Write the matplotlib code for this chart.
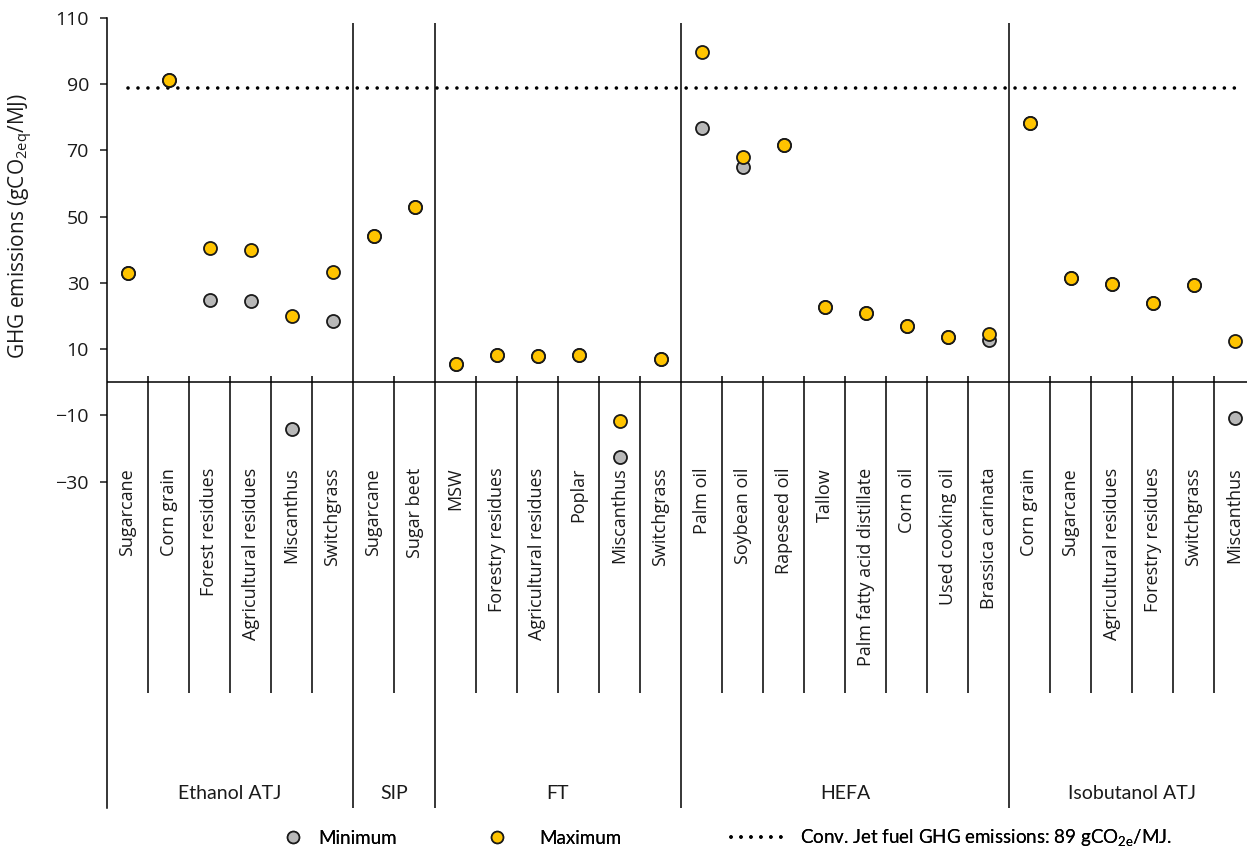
import numpy as np
import matplotlib
matplotlib.use("Agg")
import matplotlib.pyplot as plt
from matplotlib.lines import Line2D

plt.rcParams['font.family'] = ['Open Sans', 'DejaVu Sans']
plt.rcParams['mathtext.default'] = 'regular'

groups = ["Ethanol ATJ", "SIP", "FT", "HEFA", "Isobutanol ATJ"]
group_sizes = [6, 2, 6, 8, 6]
feedstocks = [
    "Sugarcane", "Corn grain", "Forest residues", "Agricultural residues", "Miscanthus", "Switchgrass",
    "Sugarcane", "Sugar beet",
    "MSW", "Forestry residues", "Agricultural residues", "Poplar", "Miscanthus", "Switchgrass",
    "Palm oil", "Soybean oil", "Rapeseed oil", "Tallow", "Palm fatty acid distillate", "Corn oil",
    "Used cooking oil", "Brassica carinata",
    "Corn grain", "Sugarcane", "Agricultural residues", "Forestry residues", "Switchgrass", "Miscanthus",
]
ghg_min = [
    33.0, 91.2, 25.0, 24.6, -14.1, 18.6,
    44.2, 53.0,
    5.5, 8.2, 7.8, 8.2, -22.4, 6.9,
    76.8, 65.1, 71.7, 22.7, 20.9, 17.1, 13.8, 12.8,
    78.2, 31.5, 29.7, 23.9, 29.3, -10.8,
]
ghg_max = [
    33.0, 91.2, 40.6, 40.0, 19.9, 33.4,
    44.2, 53.0,
    5.5, 8.2, 7.8, 8.2, -11.7, 6.9,
    99.7, 68.0, 71.7, 22.7, 20.9, 17.1, 13.8, 14.6,
    78.2, 31.5, 29.7, 23.9, 29.3, 12.4,
]
jet_fuel_ref = 89

W, H = 1247, 851
fig = plt.figure(figsize=(W / 100, H / 100), dpi=100)
# value axis: 110 sits at y=18 px, label block ends at y=808 px
px_per_unit = 3.312
ymax = 110
ymin = ymax - (808 - 18) / px_per_unit
ax = fig.add_axes([107 / W, (H - 808) / H, (1255 - 107) / W, (808 - 18) / H])
ax.set_xlim(0, len(feedstocks))
ax.set_ylim(ymin, ymax)

x = np.arange(len(feedstocks)) + 0.5
ax.scatter(x, ghg_min, s=88, c="#B8B8B8", edgecolors="#1a1a1a", linewidths=1.3, zorder=3)
ax.scatter(x, ghg_max, s=88, c="#FFC400", edgecolors="#1a1a1a", linewidths=1.3, zorder=4)
ax.plot(x, [jet_fuel_ref] * len(x), color="black", lw=2.6, linestyle=(0, (0.01, 2.75)),
        dash_capstyle="round", zorder=2)

# category axis crossing at zero, with two levels of dividers
ax.axhline(0, color="black", lw=1.1, zorder=1)
edges = np.cumsum([0] + group_sizes)
inner = [i for i in range(1, len(feedstocks)) if i not in edges]
ax.vlines(inner, -93.8, 1.9, color="black", lw=1.1)
ax.vlines(edges[1:], ymin, 108.6, color="black", lw=1.1)

for xi, name in zip(x, feedstocks):
    ax.text(xi, -25.8, name, rotation=90, ha="center", va="top", fontsize=13, color="#1a1a1a")
for g, a, b in zip(groups, edges[:-1], edges[1:]):
    ax.text((a + b) / 2, -124.0, g, ha="center", va="center", fontsize=14, color="#1a1a1a",
            family=["Lato", "DejaVu Sans"])

for side in ["top", "right", "bottom"]:
    ax.spines[side].set_visible(False)
ax.spines["left"].set_linewidth(1.1)
ax.set_xticks([])
ax.set_yticks(np.arange(-30, 111, 20))
ax.tick_params(axis="y", length=5, width=1.1, labelsize=14, pad=8, colors="#1a1a1a")

fig.text(21 / W, 1 - 226 / H, "GHG emissions (gCO$_{2eq}$/MJ)", rotation=90, ha="center", va="center",
         fontsize=15, color="#1a1a1a")

# legend entries laid out one by one along the bottom
fs = 13.5
em = fs * 100 / 72
entries = [
    (Line2D([], [], ls="none", marker="o", ms=8.5, mfc="#B8B8B8", mec="#1a1a1a", mew=1.2),
     "Minimum", 283, 20, 15),
    (Line2D([], [], ls="none", marker="o", ms=8.5, mfc="#FFC400", mec="#1a1a1a", mew=1.2),
     "Maximum", 487, 20, 32),
    (Line2D([], [], color="black", lw=2.6, ls=(0, (0.01, 2.75)), dash_capstyle="round"),
     "Conv. Jet fuel GHG emissions: 89 gCO$_{2e}$/MJ.", 731, 59, 10),
]
for handle, label, left, hlen, pad in entries:
    leg = fig.legend([handle], [label], loc="center left", bbox_to_anchor=(left / W, 1 - 838 / H),
                     frameon=False, borderpad=0, borderaxespad=0, handlelength=hlen / em,
                     handletextpad=pad / em, prop={"family": ["Lato", "DejaVu Sans"], "size": fs})
    fig.add_artist(leg)

fig.savefig("out.png", dpi=100)
